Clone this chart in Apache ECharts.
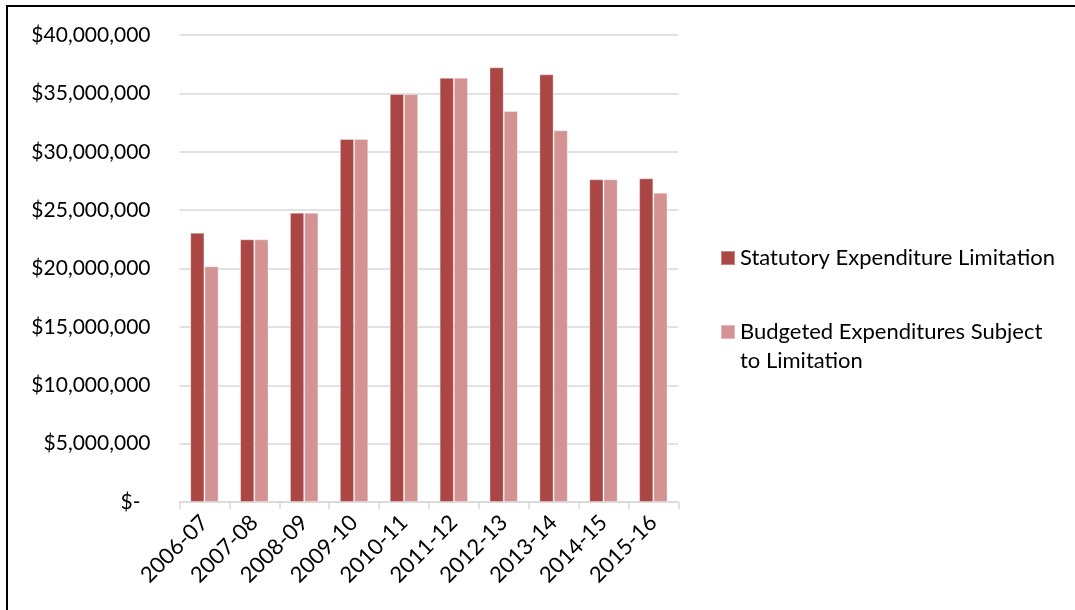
<!DOCTYPE html>
<html>
<head>
<meta charset="utf-8">
<script src="https://cdn.jsdelivr.net/npm/echarts@6/dist/echarts.min.js"></script>
<style>
html,body{margin:0;padding:0;background:#fff;}
#chart{width:1075px;height:610px;}
</style>
</head>
<body>
<div id="chart"></div>
<script>
const categories = ['2006-07','2007-08','2008-09','2009-10','2010-11','2011-12','2012-13','2013-14','2014-15','2015-16'];
const statutoryLimit = [23070000, 22500000, 24780000, 31090000, 34950000, 36340000, 37230000, 36630000, 27640000, 27720000];
const budgetedSubject = [20190000, 22500000, 24780000, 31090000, 34950000, 36340000, 33500000, 31840000, 27640000, 26490000];
const seriesNames = ['Statutory Expenditure Limitation', 'Budgeted Expenditures Subject to Limitation'];
const yTicks = {min: 0, max: 40000000, interval: 5000000};

const FONT = 'Lato';
const chart = echarts.init(document.getElementById('chart'), null, {renderer: 'canvas'});
chart.setOption({
  animation: false,
  backgroundColor: '#ffffff',
  graphic: [{
    type: 'rect',
    shape: {x: 7, y: 6, width: 1200, height: 800},
    style: {fill: 'none', stroke: '#000', lineWidth: 2},
    silent: true
  }],
  grid: {left: 179.5, right: 396.7, top: 35, bottom: 108, containLabel: false},
  legend: [{
    data: [seriesNames[0]],
    orient: 'vertical',
    left: 720, top: 243.5,
    padding: 0,
    itemWidth: 14, itemHeight: 14, itemGap: 0,
    icon: 'rect',
    textStyle: {fontFamily: FONT, fontSize: 22, color: '#000', lineHeight: 29}
  }, {
    data: [seriesNames[1]],
    orient: 'vertical',
    left: 720, top: 288.5,
    padding: 0,
    itemWidth: 14, itemHeight: 14, itemGap: 0,
    icon: 'rect',
    formatter: function (n) { return ' \n' + n.replace(' to ', '\nto '); },
    textStyle: {fontFamily: FONT, fontSize: 22, color: '#000', lineHeight: 29}
  }],
  xAxis: {
    type: 'category',
    data: categories,
    axisLine: {lineStyle: {color: '#D9D9D9', width: 1.5}},
    axisTick: {show: true, length: 7, lineStyle: {color: '#D9D9D9', width: 1.5}},
    axisLabel: {rotate: 45, margin: 17, fontFamily: FONT, fontSize: 22, color: '#000', interval: 0}
  },
  yAxis: {
    type: 'value',
    min: yTicks.min, max: yTicks.max, interval: yTicks.interval,
    axisLine: {show: false},
    axisTick: {show: false},
    splitLine: {lineStyle: {color: '#D9D9D9', width: 1.5}},
    axisLabel: {
      margin: 29,
      fontFamily: FONT, fontSize: 21, color: '#000',
      formatter: function (v) {
        if (v === 0) return '{z|$-}';
        return '$' + v.toLocaleString('en-US');
      },
      rich: {z: {fontFamily: FONT, fontSize: 21, color: '#000', padding: [0, 10, 0, 0]}}
    }
  },
  series: [{
    name: seriesNames[0],
    type: 'bar',
    data: statutoryLimit,
    barWidth: '28.5%',
    barGap: '0%',
    itemStyle: {color: '#AA4644', borderColor: 'rgba(255,255,255,0.35)', borderWidth: 1}
  }, {
    name: seriesNames[1],
    type: 'bar',
    data: budgetedSubject,
    barWidth: '28.5%',
    barGap: '0%',
    itemStyle: {color: '#D39392', borderColor: 'rgba(255,255,255,0.35)', borderWidth: 1}
  }]
});
</script>
</body>
</html>
